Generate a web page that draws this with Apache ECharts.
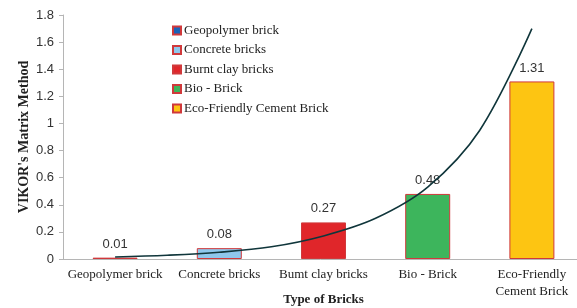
<!DOCTYPE html>
<html>
<head>
<meta charset="utf-8">
<script src="https://cdn.jsdelivr.net/npm/echarts@6/dist/echarts.min.js"></script>
<style>
  html, body { margin: 0; padding: 0; background: #fff; }
  #chart { width: 577px; height: 308px; }
</style>
</head>
<body>
<div id="chart"></div>
<script>
// categories and values
var categories = ['Geopolymer brick', 'Concrete bricks', 'Burnt clay bricks', 'Bio - Brick', 'Eco-Friendly Cement Brick'];
var axisLabels = ['Geopolymer brick', 'Concrete bricks', 'Bumt clay bricks', 'Bio - Brick', 'Eco-Friendly\nCement Brick'];
var values = [0.01, 0.08, 0.27, 0.48, 1.31];
var barColors = ['#1a63b8', '#8fc8ec', '#e0262a', '#3db55c', '#fdc512'];

// trend curve, read at points along the category axis (0 = first bar centre)
var trendX = [0, 0.5, 1, 1.5, 2, 2.5, 3, 3.5, 4];
var trendY = [0.015, 0.028, 0.05, 0.09, 0.17, 0.30, 0.53, 0.95, 1.70];

var chart = echarts.init(document.getElementById('chart'));

var series = categories.map(function (name, i) {
    var data = values.map(function (v, j) { return j === i ? v : '-'; });
    return {
        name: name,
        type: 'bar',
        data: data,
        barWidth: 45,
        barGap: '-100%',
        itemStyle: {
            color: barColors[i],
            borderColor: '#d0393b',
            borderWidth: 1
        },
        label: {
            show: true,
            position: 'top',
            distance: 7,
            fontFamily: 'Liberation Sans',
            fontSize: 13,
            color: '#333',
            formatter: function (p) { return p.value.toFixed(2); }
        }
    };
});

series.push({
    name: 'trend',
    type: 'line',
    xAxisIndex: 1,
    data: trendX.map(function (x, i) { return [x, trendY[i]]; }),
    smooth: 0.35,
    showSymbol: false,
    z: 10,
    lineStyle: {
        color: '#10363b',
        width: 1.6
    }
});

var option = {
    animation: false,
    legend: {
        orient: 'vertical',
        left: 167,
        top: 19,
        itemWidth: 8,
        itemHeight: 8,
        itemGap: 6.5,
        icon: 'rect',
        data: categories,
        textStyle: {
            fontFamily: 'Liberation Serif',
            fontSize: 13,
            color: '#222',
            padding: [0, 0, 0, -2]
        }
    },
    grid: {
        left: 63,
        right: -7,
        top: 15,
        bottom: 49,
        outerBoundsMode: 'none',
        containLabel: false
    },
    xAxis: [{
        type: 'category',
        data: axisLabels,
        name: 'Type of Bricks',
        nameLocation: 'middle',
        nameGap: 34,
        nameMoveOverlap: false,
        nameTextStyle: {
            fontFamily: 'Liberation Serif',
            fontWeight: 'bold',
            fontSize: 13,
            color: '#222'
        },
        axisLine: { lineStyle: { color: '#b5b5b5' } },
        axisTick: { show: false },
        axisLabel: {
            interval: 0,
            margin: 7,
            fontFamily: 'Liberation Serif',
            fontSize: 13,
            lineHeight: 17,
            color: '#222'
        }
    }, {
        type: 'value',
        min: -0.5,
        max: 4.5,
        show: false
    }],
    yAxis: {
        type: 'value',
        min: 0,
        max: 1.8,
        interval: 0.2,
        name: "VIKOR's Matrix Method",
        nameLocation: 'middle',
        nameGap: 32,
        nameMoveOverlap: false,
        nameTextStyle: {
            fontFamily: 'Liberation Serif',
            fontWeight: 'bold',
            fontSize: 14,
            color: '#222'
        },
        axisLine: { show: true, onZero: false, lineStyle: { color: '#b5b5b5' } },
        axisTick: { show: true, length: 4, lineStyle: { color: '#b5b5b5' } },
        splitLine: { show: false },
        axisLabel: {
            margin: 9,
            fontFamily: 'Liberation Sans',
            fontSize: 13,
            color: '#333'
        }
    },
    series: series
};

chart.setOption(option);
</script>
</body>
</html>
